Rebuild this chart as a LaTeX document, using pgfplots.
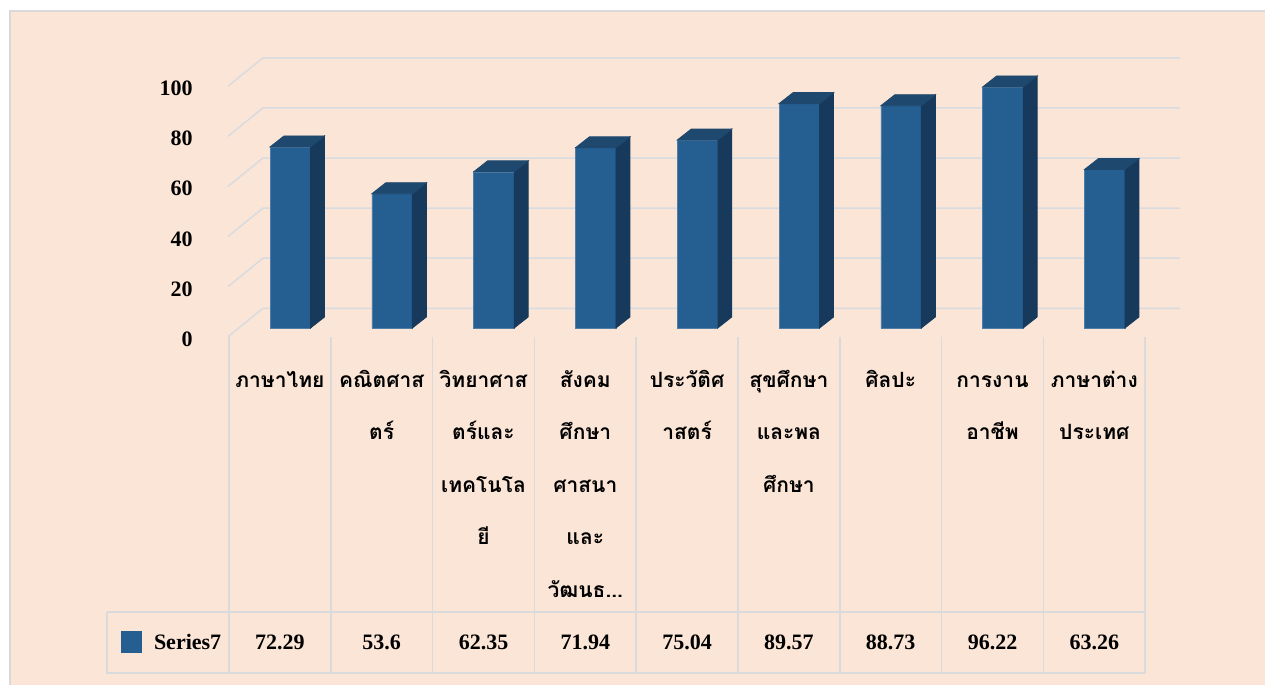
\documentclass[border=0pt]{standalone}
\usepackage{fontspec}
\setmainfont{Liberation Serif}
\newfontfamily\thaifont[Script=Thai]{Loma}
\usepackage{pgfplots}
\usepackage{pgfplotstable}
\pgfplotsset{compat=1.18}
\definecolor{bg}{HTML}{FBE5D6}
\definecolor{barfront}{HTML}{255E91}
\definecolor{barside}{HTML}{173A5C}
\definecolor{bartop}{HTML}{1E486E}
\definecolor{gridc}{HTML}{D8DCE0}
\definecolor{tabc}{HTML}{D9DADB}
\pgfdeclareplotmark{nothing}{}
\newcommand\TS{\rule{0pt}{12pt}}
\newcommand\ddd{...}

\pgfplotstableread{
i v
0 72.29
1 53.6
2 62.35
3 71.94
4 75.04
5 89.57
6 88.73
7 96.22
8 63.26
}\datatable

\begin{document}
\begin{tikzpicture}
\begin{scope}[x=0.5pt,y=-0.5pt]
\useasboundingbox (0,0) rectangle (1265,685);
\fill[white] (0,0) rectangle (1265,685);
\fill[bg] (10,11) rectangle (1265,685);
\draw[black!15, line width=1pt] (10,685) -- (10,11) -- (1265,11);
\foreach \v in {0,20,...,100}{
  \draw[gridc, line width=0.75pt] (228,{336.7-2.505*\v}) -- (263,{308.3-2.505*\v}) -- (1180,{308.3-2.505*\v});
}
\end{scope}

\begin{axis}[
  at={(145.15pt,-164pt)}, anchor=origin,
  x=50.9pt, y=1.2525pt,
  xmin=-0.504, xmax=8.504, ymin=0, ymax=100,
  clip=false,
  axis line style={draw=none},
  tick style={draw=none},
  major tick length=0pt,
  ytick={0,20,40,60,80,100},
  xtick={0,1,2,3,4,5,6,7,8},
  xticklabels={{\TS ภาษาไทย},{\TS คณิตศาส\\ตร์},{\TS วิทยาศาส\\ตร์และ\\เทคโนโล\\ยี},{\TS สังคม\\ศึกษา\\ศาสนา\\และ\\วัฒนธ\ddd},{\TS ประวัติศ\\าสตร์},{\TS สุขศึกษา\\และพล\\ศึกษา},{\TS ศิลปะ},{\TS การงาน\\อาชีพ},{\TS ภาษาต่าง\\ประเทศ}},
  /pgf/number format/assume math mode=true,
  yticklabel style={font=\bfseries\fontsize{11}{13}\selectfont, anchor=east, inner sep=0pt, xshift=-23pt, yshift=-5.5pt},
  xticklabel style={font=\thaifont\bfseries\fontsize{10.5}{26.25}\selectfont, anchor=north, align=center, inner sep=0pt, xshift=-5.2pt, yshift=-17.5pt},
]
\addplot[ybar, bar width=20.25pt, bar shift=0pt, fill=barfront, draw=barfront!80!white, line width=0.3pt] table[x=i,y=v]{\datatable};
\addplot[scatter, only marks, mark=nothing,
  visualization depends on={\thisrow{v} \as \val},
  scatter/@pre marker code/.code={
    \pgfmathsetmacro\hh{\val*1.2525}
    \fill[barside] (10.125pt,0pt) -- ++(7pt,5.5pt) -- ++(0pt,-\hh pt) -- ++(-7pt,-5.5pt) -- cycle;
    \fill[bartop] (-10.125pt,0pt) -- (10.125pt,0pt) -- ++(7pt,5.5pt) -- ++(-20.25pt,0pt) -- cycle;
  },
  scatter/@post marker code/.code={},
] table[x=i,y=v]{\datatable};
\addplot[only marks, mark=nothing, nodes near coords, point meta=explicit symbolic,
  every node near coord/.style={anchor=center, font=\bfseries\fontsize{11}{13}\selectfont, inner sep=0pt}]
  table[x expr=\thisrow{i}-0.102, y expr=-125.35, meta=v]{\datatable};
\end{axis}

\begin{scope}[x=0.5pt,y=-0.5pt]
\foreach \k in {0,...,9}{
  \draw[tabc, line width=0.75pt] ({229+101.8*\k},337) -- ({229+101.8*\k},673);
}
\draw[tabc, line width=0.75pt] (107,612) -- (1145.2,612);
\draw[tabc, line width=0.75pt] (107,612) -- (107,673) -- (1145.2,673);
\fill[barfront] (121,631) rectangle (142,653);
\node[anchor=west, font=\bfseries\fontsize{11}{13}\selectfont, inner sep=0pt] at (153.6,642) {Series7};
\end{scope}
\end{tikzpicture}
\end{document}
